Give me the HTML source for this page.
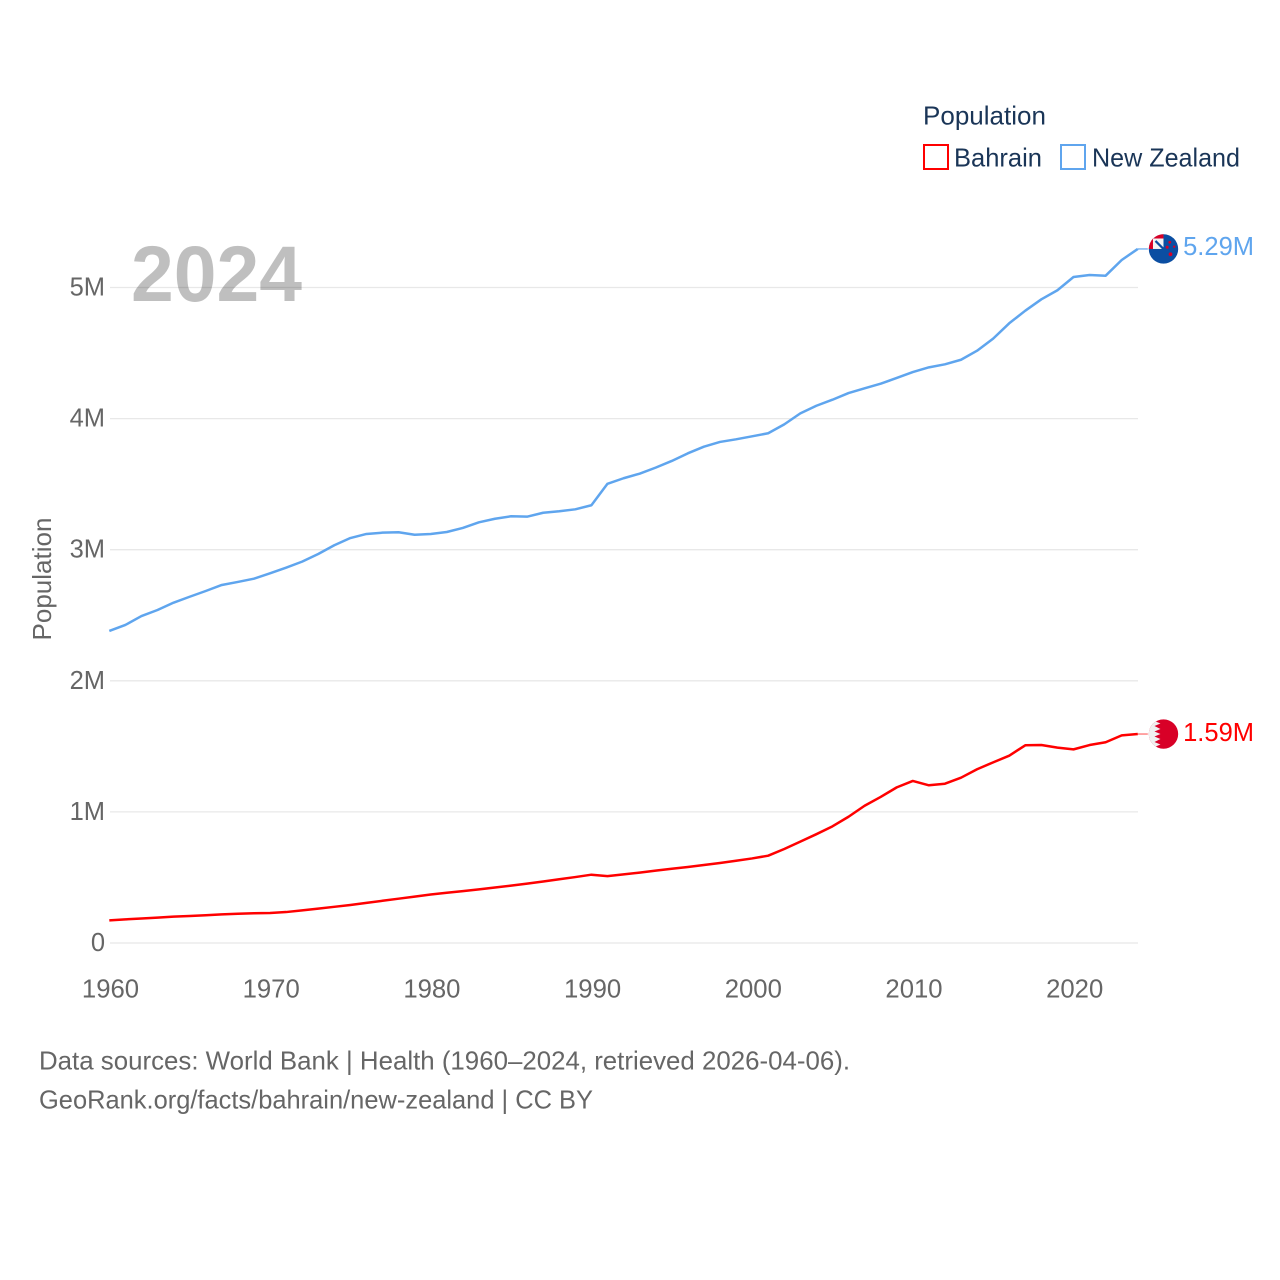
<!DOCTYPE html>
<html lang="en">
<head>
<meta charset="utf-8">
<title>Population: Bahrain and New Zealand</title>
<style>
html,body{margin:0;padding:0;background:#fff;}
svg{display:block;font-family:"Liberation Sans",sans-serif;}
</style>
</head>
<body>
<svg id="chart" xmlns="http://www.w3.org/2000/svg" width="1280" height="1280" viewBox="0 0 1280 1280">
  <defs>
    <clipPath id="flag-clip"><circle cx="0" cy="0" r="14.7"></circle></clipPath>
  </defs>
  <rect x="0" y="0" width="1280" height="1280" fill="#fff"></rect>

  <g id="grid-layer"></g>

  <text x="131" y="301" font-size="79" font-weight="700" fill="#000" fill-opacity="0.25" textLength="171" lengthAdjust="spacingAndGlyphs">2024</text>

  <g id="y-tick-layer"></g>
  <g id="x-tick-layer"></g>

  <text transform="translate(51,579) rotate(-90)" text-anchor="middle" font-size="26" fill="#666" textLength="123" lengthAdjust="spacingAndGlyphs">Population</text>

  <g id="series-layer"></g>

  <g id="flag-nz">
    <g clip-path="url(#flag-clip)">
      <rect x="-15" y="-15" width="30" height="30" fill="#0b4ea2"></rect>
      <rect x="-15" y="-15" width="15" height="15" fill="#f4f4f4"></rect>
      <path d="M-8 -8 L0 0" stroke="#0b4ea2" stroke-width="2.2"></path>
      <path d="M-15 -15 H0 V-10.5 H-10.5 V0 H-15 Z" fill="#d80027"></path>
      <circle cx="6.3" cy="-6.7" r="1.4" fill="#d80027"></circle>
      <circle cx="3.7" cy="-1.7" r="1.5" fill="#d80027"></circle>
      <circle cx="10.7" cy="-2.3" r="1.2" fill="#d80027"></circle>
      <circle cx="7" cy="5.3" r="1.9" fill="#d80027"></circle>
    </g>
  </g>
  <g id="flag-bh">
    <g clip-path="url(#flag-clip)">
      <rect x="-15" y="-15" width="30" height="30" fill="#d80027"></rect>
      <polygon points="-15,-15 -5,-15 -9,-13 -3,-10.5 -9,-8 -3,-5 -9,-2.5 -3,0 -9,2.5 -3,5 -9,8 -3,10.5 -9,13 -5,15 -15,15" fill="#f0f0f0"></polygon>
    </g>
  </g>

  <g id="end-label-layer"></g>

  <g>
    <text x="923" y="124.5" font-size="26" fill="#1a3557" textLength="123" lengthAdjust="spacingAndGlyphs">Population</text>
    <g>
      <rect x="924" y="145" width="24" height="24" fill="#fff" stroke="#ff0000" stroke-width="2"></rect>
      <text x="954" y="166.5" font-size="26" fill="#1a3557" textLength="88" lengthAdjust="spacingAndGlyphs">Bahrain</text>
    </g>
    <g>
      <rect x="1061" y="145" width="24" height="24" fill="#fff" stroke="#5fa5ee" stroke-width="2"></rect>
      <text x="1092" y="166.5" font-size="26" fill="#1a3557" textLength="148" lengthAdjust="spacingAndGlyphs">New Zealand</text>
    </g>
  </g>

  <text x="39" y="1069.5" font-size="26" fill="#666" textLength="811" lengthAdjust="spacingAndGlyphs">Data sources: World Bank | Health (1960–2024, retrieved 2026-04-06).</text>
  <text x="39" y="1108.5" font-size="26" fill="#666" textLength="554" lengthAdjust="spacingAndGlyphs">GeoRank.org/facts/bahrain/new-zealand | CC BY</text>
</svg>

<script>
const years = [1960,1961,1962,1963,1964,1965,1966,1967,1968,1969,1970,1971,1972,1973,1974,1975,1976,1977,1978,1979,1980,1981,1982,1983,1984,1985,1986,1987,1988,1989,1990,1991,1992,1993,1994,1995,1996,1997,1998,1999,2000,2001,2002,2003,2004,2005,2006,2007,2008,2009,2010,2011,2012,2013,2014,2015,2016,2017,2018,2019,2020,2021,2022,2023,2024];
const newZealand = [2.380,2.426,2.494,2.540,2.596,2.641,2.685,2.731,2.754,2.779,2.820,2.863,2.909,2.967,3.034,3.089,3.120,3.130,3.133,3.114,3.120,3.135,3.166,3.209,3.236,3.255,3.252,3.282,3.293,3.308,3.339,3.503,3.545,3.580,3.626,3.677,3.735,3.786,3.822,3.842,3.865,3.888,3.956,4.040,4.098,4.144,4.195,4.231,4.266,4.310,4.355,4.391,4.414,4.449,4.518,4.610,4.727,4.823,4.910,4.979,5.080,5.095,5.090,5.210,5.294];
const bahrain = [0.173,0.180,0.187,0.194,0.201,0.206,0.212,0.218,0.223,0.227,0.229,0.236,0.249,0.262,0.276,0.290,0.306,0.322,0.338,0.354,0.370,0.383,0.396,0.409,0.423,0.438,0.453,0.469,0.486,0.503,0.521,0.510,0.523,0.537,0.552,0.566,0.580,0.595,0.610,0.627,0.645,0.666,0.717,0.773,0.830,0.890,0.963,1.047,1.114,1.187,1.236,1.203,1.215,1.261,1.325,1.378,1.429,1.508,1.510,1.490,1.477,1.510,1.531,1.584,1.594];
const yTickValues = [0,1,2,3,4,5];
const yTickLabels = ["0","1M","2M","3M","4M","5M"];
const xTickValues = [1960,1970,1980,1990,2000,2010,2020];
const xTickLabels = ["1960","1970","1980","1990","2000","2010","2020"];
const endLabels = ["5.29M","1.59M"];

const NS = "http://www.w3.org/2000/svg";
const xScale = function (year) { return 109.3 + (year - 1960) * 16.07; };
const yScale = function (value) { return 943 - value * 131.1; };

function make(tag, parent) {
  const el = document.createElementNS(NS, tag);
  parent.appendChild(el);
  return el;
}

const gridLayer = document.getElementById("grid-layer");
const yTickLayer = document.getElementById("y-tick-layer");
const xTickLayer = document.getElementById("x-tick-layer");
const seriesLayer = document.getElementById("series-layer");
const endLabelLayer = document.getElementById("end-label-layer");

yTickValues.forEach(function (value, i) {
  const line = make("line", gridLayer);
  
  
  line.setAttribute("x1", 110);
  line.setAttribute("x2", 1138);
  line.setAttribute("y1", yScale(value));
  line.setAttribute("y2", yScale(value));
  line.setAttribute("stroke", "#e8e8e8");
  line.setAttribute("stroke-width", "1.3");

  const label = make("text", yTickLayer);
  
  
  label.setAttribute("x", 105);
  label.setAttribute("y", yScale(value) + 8);
  label.setAttribute("text-anchor", "end");
  label.setAttribute("font-size", "25.5");
  label.setAttribute("fill", "#666");
  label.textContent = yTickLabels[i];
});

xTickValues.forEach(function (year, i) {
  const label = make("text", xTickLayer);
  
  
  label.setAttribute("x", xScale(year) + 1.2);
  label.setAttribute("y", 997.5);
  label.setAttribute("text-anchor", "middle");
  label.setAttribute("font-size", "25.7");
  label.setAttribute("fill", "#666");
  label.textContent = xTickLabels[i];
});

function pathFor(values) {
  return values.map(function (v, i) {
    return (i ? "L" : "M") + xScale(years[i]).toFixed(2) + " " + yScale(v).toFixed(2);
  }).join(" ");
}

const lastIndex = years.length - 1;
const lineEndX = xScale(years[lastIndex]);
const flagX = lineEndX + 25.7;

const nzLine = make("path", seriesLayer);


nzLine.setAttribute("d", pathFor(newZealand));
nzLine.setAttribute("fill", "none");
nzLine.setAttribute("stroke", "#5fa5ee");
nzLine.setAttribute("stroke-width", "2.5");
nzLine.setAttribute("stroke-linejoin", "round");

const bhLine = make("path", seriesLayer);


bhLine.setAttribute("d", pathFor(bahrain));
bhLine.setAttribute("fill", "none");
bhLine.setAttribute("stroke", "#ff0000");
bhLine.setAttribute("stroke-width", "2.5");
bhLine.setAttribute("stroke-linejoin", "round");

const nzConnector = make("line", seriesLayer);


nzConnector.setAttribute("x1", lineEndX);
nzConnector.setAttribute("x2", lineEndX + 10);
nzConnector.setAttribute("y1", yScale(newZealand[lastIndex]));
nzConnector.setAttribute("y2", yScale(newZealand[lastIndex]));
nzConnector.setAttribute("stroke", "#5fa5ee");
nzConnector.setAttribute("stroke-width", "1.2");

const bhConnector = make("line", seriesLayer);


bhConnector.setAttribute("x1", lineEndX);
bhConnector.setAttribute("x2", lineEndX + 10);
bhConnector.setAttribute("y1", yScale(bahrain[lastIndex]));
bhConnector.setAttribute("y2", yScale(bahrain[lastIndex]));
bhConnector.setAttribute("stroke", "#ff0000");
bhConnector.setAttribute("stroke-width", "1.2");
bhConnector.setAttribute("stroke-opacity", "0.6");

document.getElementById("flag-nz").setAttribute("transform", "translate(" + flagX + "," + yScale(newZealand[lastIndex]) + ")");
document.getElementById("flag-bh").setAttribute("transform", "translate(" + flagX + "," + yScale(bahrain[lastIndex]) + ")");

const nzValue = make("text", endLabelLayer);


nzValue.setAttribute("x", 1254);
nzValue.setAttribute("y", yScale(newZealand[lastIndex]) + 6);
nzValue.setAttribute("text-anchor", "end");
nzValue.setAttribute("font-size", "25.5");
nzValue.setAttribute("fill", "#5fa5ee");
nzValue.textContent = endLabels[0];

const bhValue = make("text", endLabelLayer);


bhValue.setAttribute("x", 1254);
bhValue.setAttribute("y", yScale(bahrain[lastIndex]) + 7);
bhValue.setAttribute("text-anchor", "end");
bhValue.setAttribute("font-size", "25.5");
bhValue.setAttribute("fill", "#ff0000");
bhValue.textContent = endLabels[1];
</script>
</body>
</html>
